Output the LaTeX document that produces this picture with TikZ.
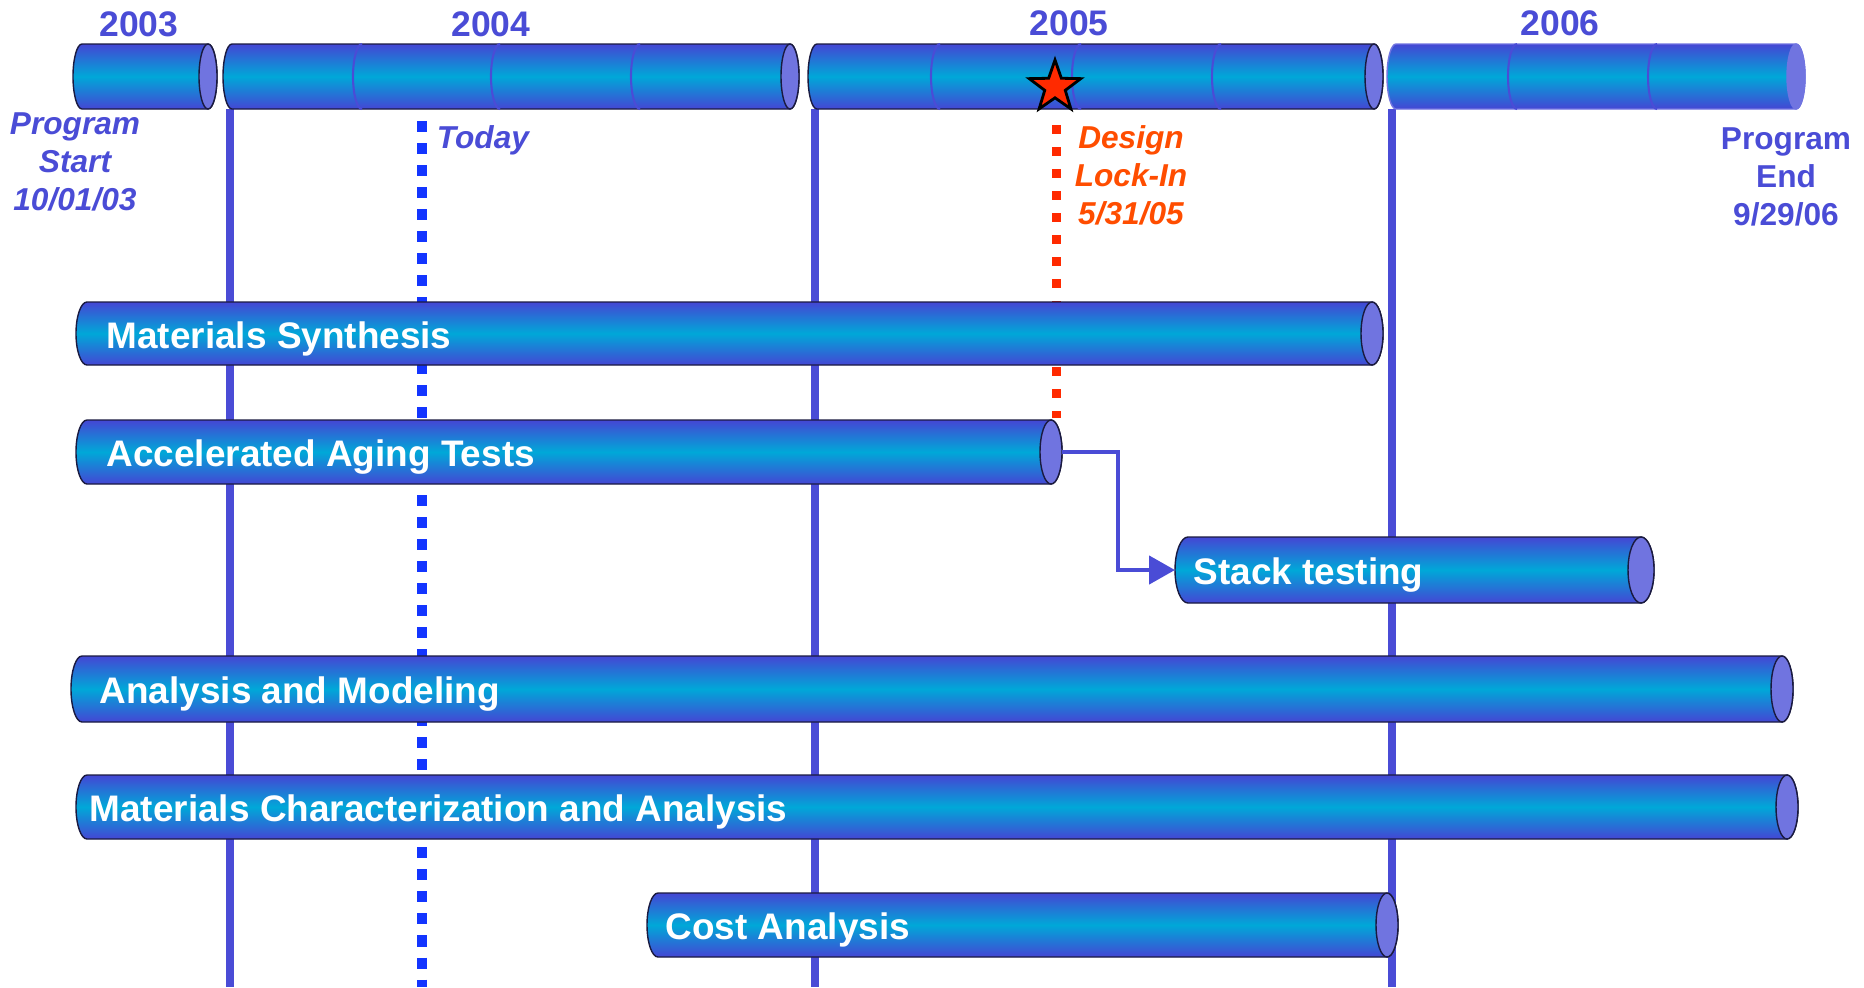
\documentclass[tikz,border=0pt]{standalone}
\usepackage{fontspec}
\setmainfont{Liberation Sans}
\usetikzlibrary{calc, positioning}
\usetikzlibrary{arrows.meta}
\usetikzlibrary{shapes.geometric}

\definecolor{tlblue}{HTML}{4A4CD6}
\definecolor{barblue}{HTML}{4446D4}
\definecolor{barcyan}{HTML}{00A8D8}
\definecolor{capblue}{HTML}{7074E0}
\definecolor{barline}{HTML}{1A1A40}
\definecolor{todayblue}{HTML}{1335FF}
\definecolor{lockred}{HTML}{FF2A00}
\definecolor{lockorange}{HTML}{FF4D00}

\tikzset{
  yearlbl/.style={text=tlblue, font=\bfseries\fontsize{10.1}{12}\selectfont},
  milestone/.style={text=tlblue, align=center, font=\bfseries\fontsize{9}{10.8}\selectfont},
  tasklbl/.style={anchor=west, inner sep=0pt, text=white, font=\bfseries\fontsize{10.5}{12}\selectfont},
  yearline/.style={draw=tlblue, line width=0.08cm},
  link/.style={draw=tlblue, line width=0.045cm, -{Triangle[length=0.26cm, width=0.28cm]}}
}

% horizontal cylinder: [outline] name, left x, right x, top y, bottom y, end radius
\newcommand{\drawtube}[7][barline]{%
  \pgfmathsetmacro{\ry}{(#6-#5)/2}
  \pgfmathsetmacro{\ym}{-(#5+#6)/2}
  \coordinate (#2-w) at (#3,\ym);
  \coordinate (#2-e) at (#4,\ym);
  \shadedraw[top color=barblue, bottom color=barblue, middle color=barcyan, draw=#1, line width=0.4pt]
    (#2-w) arc[start angle=180, end angle=90, x radius=#7, y radius=\ry]
    -- ($(#2-e)+(-#7,\ry)$) arc[start angle=90, end angle=-90, x radius=#7, y radius=\ry]
    -- ($(#2-w)+(#7,-\ry)$) arc[start angle=270, end angle=180, x radius=#7, y radius=\ry] -- cycle;
  \filldraw[fill=capblue, draw=#1, line width=0.4pt] ($(#2-e)+(-#7,0)$) ellipse[x radius=#7, y radius=\ry];
}

\begin{document}
\begin{tikzpicture}[x=0.01cm, y=0.01cm]
\useasboundingbox (0,0) rectangle (1864,-987);

% year boundaries
\foreach \xx in {230, 815, 1392}
  \draw[yearline] (\xx,-109) -- (\xx,-987);

% today marker
\draw[todayblue, line width=0.1cm, dash pattern=on 0.11cm off 0.11cm] (422,-121) -- (422,-987);

% design lock-in marker
\draw[lockred, line width=0.09cm, dash pattern=on 0.09cm off 0.13cm] (1056,-125) -- (1056,-418);

% timeline
\drawtube{y2003}{73}{217}{44}{109}{9}
\drawtube{y2004}{223}{799}{44}{109}{9}
\drawtube{y2005}{808}{1383}{44}{109}{9}
\drawtube[capblue]{y2006}{1387}{1805}{44}{109}{9}

\foreach \xx in {362, 500, 640, 940, 1081, 1221, 1517, 1657}
  \draw[tlblue, line width=0.6pt] (\xx,-44) arc[start angle=90, end angle=270, x radius=9, y radius=32.5];

\node[yearlbl] (lbl2003) at (139,-24) {2003};
\node[yearlbl] (lbl2004) at (491,-24) {2004};
\node[yearlbl] (lbl2005) at (1069,-23) {2005};
\node[yearlbl] (lbl2006) at (1560,-23) {2006};

\node[star, star points=5, star point ratio=2.5, minimum size=0.54cm, inner sep=0pt,
      fill=lockred, draw=black, line width=0.8pt] (lockstar) at (1055,-87) {};

% tasks
\drawtube{synth}{76}{1383}{302}{365}{11}
\drawtube{aging}{76}{1062}{420}{484}{11}
\drawtube{stack}{1175}{1654}{537}{603}{13}
\drawtube{model}{71}{1793}{656}{722}{11}
\drawtube{charac}{76}{1798}{775}{839}{11}
\drawtube{cost}{647}{1398}{893}{957}{11}

\node[tasklbl] (synthlbl) at (106,-339) {Materials Synthesis};
\node[tasklbl] (aginglbl) at (106,-457) {Accelerated Aging Tests};
\node[tasklbl] (stacklbl) at (1193,-575) {Stack testing};
\node[tasklbl] (modellbl) at (99,-694) {Analysis and Modeling};
\node[tasklbl] (characlbl) at (89,-812) {Materials Characterization and Analysis};
\node[tasklbl] (costlbl) at (665,-930) {Cost Analysis};

\draw[link] (aging-e) -- ++(56,0) |- (stack-w);

% milestones
\node[milestone, font=\bfseries\itshape\fontsize{9}{10.8}\selectfont] (pstart) at (75,-162) {Program\\Start\\10/01/03};
\node[milestone, font=\bfseries\itshape\fontsize{9}{10.8}\selectfont] (today) at (483,-140) {Today};
\node[milestone, text=lockorange, font=\bfseries\itshape\fontsize{9}{10.8}\selectfont] (lockin) at (1131,-175) {Design\\Lock-In\\5/31/05};
\node[milestone] (pend) at (1786,-177) {Program\\End\\9/29/06};
\end{tikzpicture}
\end{document}
